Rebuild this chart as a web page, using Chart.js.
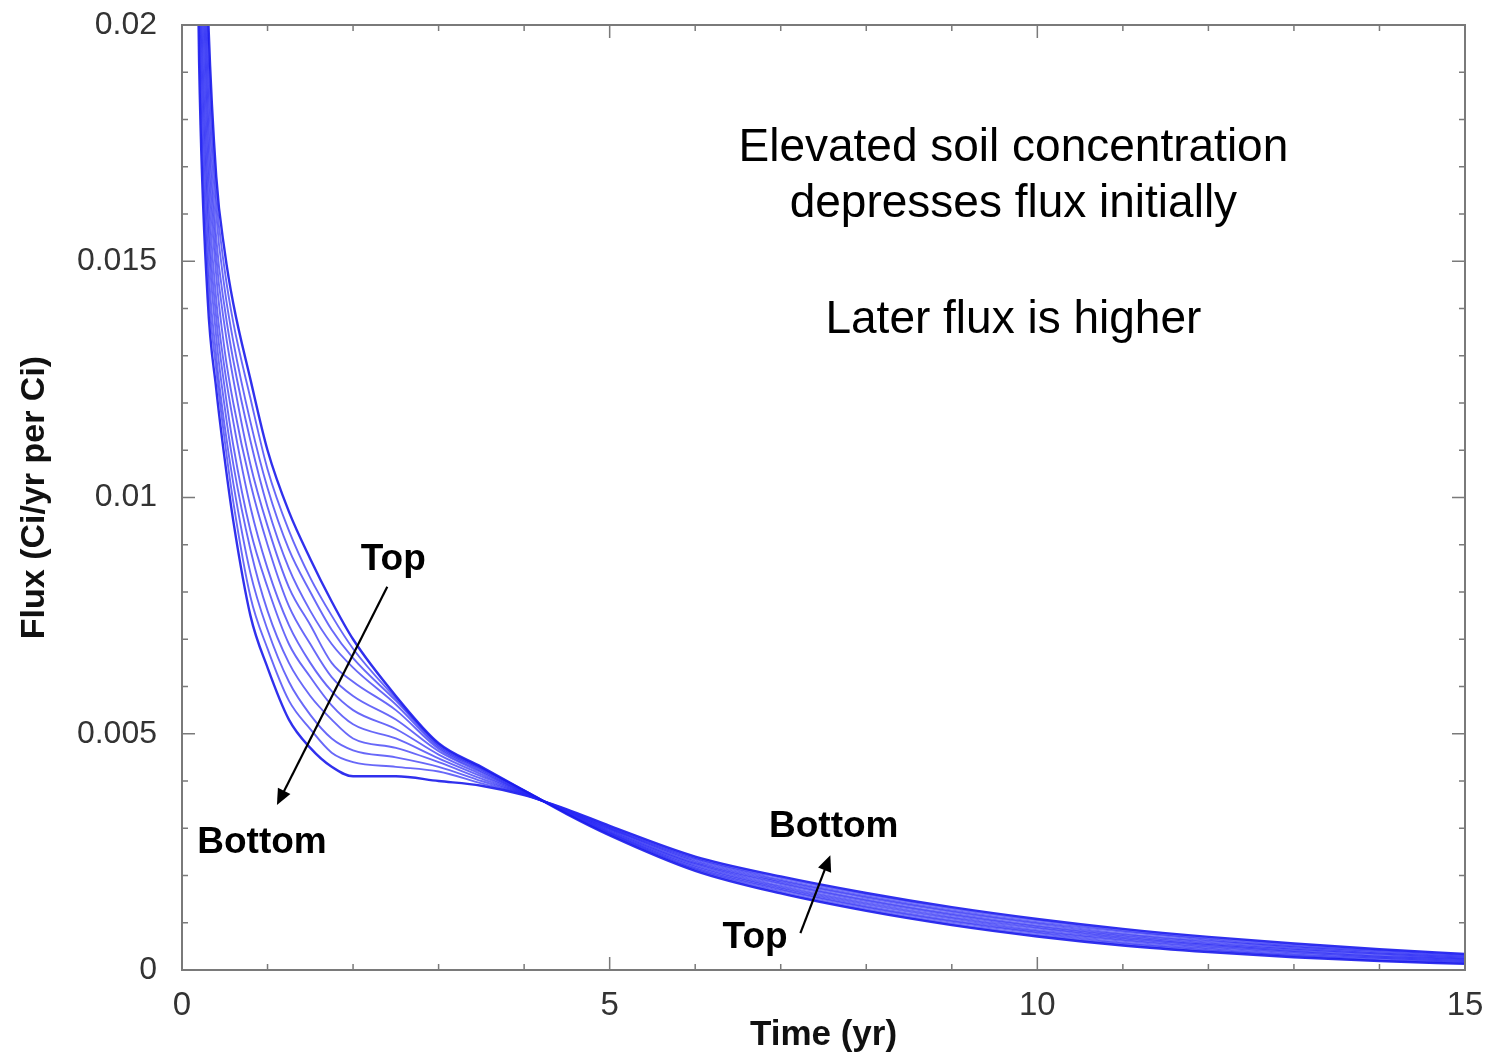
<!DOCTYPE html>
<html>
<head>
<meta charset="utf-8">
<script src="https://cdn.jsdelivr.net/npm/chart.js@4.4.1/dist/chart.umd.min.js"></script>
<style>
    html, body { margin:0; padding:0; background:#fff; }
    #wrap { width:1491px; height:1058px; }
</style>
</head>
<body>
<div id="wrap"><canvas id="grFlux" width="1491" height="1058"></canvas></div>
<script>
/* DATOS */
const tiempos = [0.15, 0.2, 0.3, 0.4, 0.5, 0.6, 0.8, 1.0, 1.25, 1.5, 1.75, 2.0, 2.5, 3.0, 3.5, 4.0, 4.5, 5, 6, 7, 8, 9, 10, 11, 12, 13, 14, 15];

// from "Top" (upper curve early) to "Bottom" (lower curve early)
const curva01 = [0.0350, 0.0280, 0.0205, 0.0168, 0.0152, 0.0141, 0.0125, 0.0110, 0.0097, 0.0087, 0.0078, 0.0070, 0.0058, 0.0048, 0.0043, 0.0038, 0.00330, 0.00285, 0.00210, 0.00162, 0.00125, 0.00095, 0.00071, 0.00052, 0.00038, 0.00027, 0.00019, 0.00013];
const curva02 = [0.0342, 0.0272, 0.0199, 0.0164, 0.0148, 0.0137, 0.0121, 0.0106, 0.0093, 0.0083, 0.0075, 0.0068, 0.00575, 0.00478, 0.00428, 0.0038, 0.00331, 0.00287, 0.00213, 0.00165, 0.00128, 0.00098, 0.00074, 0.00055, 0.00041, 0.00030, 0.00021, 0.00015];
const curva03 = [0.0334, 0.0264, 0.0193, 0.0160, 0.0144, 0.0133, 0.0116, 0.0102, 0.0089, 0.0080, 0.0072, 0.0066, 0.0057, 0.00475, 0.00426, 0.0038, 0.00332, 0.00289, 0.00215, 0.00169, 0.00132, 0.00102, 0.00078, 0.00058, 0.00044, 0.00032, 0.00024, 0.00017];
const curva04 = [0.0326, 0.0256, 0.0187, 0.0155, 0.0140, 0.0129, 0.0112, 0.0098, 0.0085, 0.0076, 0.0069, 0.0064, 0.00562, 0.00472, 0.00424, 0.00378, 0.00333, 0.00290, 0.00218, 0.00172, 0.00135, 0.00105, 0.00081, 0.00062, 0.00047, 0.00035, 0.00026, 0.00019];
const curva05 = [0.0318, 0.0248, 0.0181, 0.0151, 0.0136, 0.0125, 0.0107, 0.0094, 0.0081, 0.0073, 0.0065, 0.0061, 0.0055, 0.00468, 0.00421, 0.00377, 0.00334, 0.00292, 0.00221, 0.00175, 0.00139, 0.00109, 0.00084, 0.00065, 0.00050, 0.00038, 0.00028, 0.00021];
const curva06 = [0.0310, 0.0240, 0.0175, 0.0147, 0.0131, 0.0120, 0.0103, 0.0090, 0.0077, 0.0069, 0.0062, 0.0058, 0.0053, 0.00463, 0.00418, 0.00376, 0.00335, 0.00294, 0.00224, 0.00178, 0.00142, 0.00112, 0.00088, 0.00068, 0.00053, 0.00040, 0.00030, 0.00023];
const curva07 = [0.0301, 0.0231, 0.0169, 0.0142, 0.0127, 0.0116, 0.0098, 0.0085, 0.0073, 0.0065, 0.0059, 0.0055, 0.0051, 0.00456, 0.00414, 0.00375, 0.00336, 0.00296, 0.00226, 0.00182, 0.00146, 0.00116, 0.00091, 0.00071, 0.00055, 0.00043, 0.00033, 0.00024];
const curva08 = [0.0293, 0.0223, 0.0163, 0.0138, 0.0123, 0.0111, 0.0093, 0.0081, 0.0069, 0.0062, 0.0056, 0.0052, 0.0049, 0.00448, 0.0041, 0.00374, 0.00336, 0.00298, 0.00229, 0.00185, 0.00149, 0.00119, 0.00094, 0.00074, 0.00058, 0.00045, 0.00035, 0.00026];
const curva09 = [0.0285, 0.0215, 0.0158, 0.0134, 0.0119, 0.0107, 0.0089, 0.0076, 0.0065, 0.0058, 0.0053, 0.0049, 0.0047, 0.0044, 0.00405, 0.00373, 0.00337, 0.00300, 0.00232, 0.00188, 0.00153, 0.00123, 0.00098, 0.00077, 0.00061, 0.00048, 0.00037, 0.00028];
const curva10 = [0.0277, 0.0207, 0.0152, 0.0130, 0.0115, 0.0103, 0.0084, 0.0072, 0.0061, 0.0054, 0.0049, 0.00465, 0.0045, 0.0043, 0.0040, 0.00372, 0.00338, 0.00301, 0.00235, 0.00191, 0.00156, 0.00126, 0.00101, 0.00081, 0.00064, 0.00050, 0.00040, 0.00030];
const curva11 = [0.0268, 0.0199, 0.0147, 0.0127, 0.0112, 0.0099, 0.0079, 0.0068, 0.0057, 0.0051, 0.0046, 0.0044, 0.0043, 0.0042, 0.00395, 0.00371, 0.00339, 0.00303, 0.00237, 0.00195, 0.00160, 0.00130, 0.00105, 0.00084, 0.00067, 0.00053, 0.00042, 0.00032];
const curva12 = [0.0260, 0.0192, 0.0142, 0.0123, 0.0108, 0.0095, 0.0075, 0.0064, 0.0053, 0.0047, 0.0043, 0.0041, 0.0041, 0.0040, 0.0039, 0.0037, 0.0034, 0.00305, 0.00240, 0.00198, 0.00163, 0.00133, 0.00108, 0.00087, 0.00070, 0.00056, 0.00044, 0.00034];

const curvas = [curva01, curva02, curva03, curva04, curva05, curva06, curva07, curva08, curva09, curva10, curva11, curva12];

const xTicksLabeled = [0, 5, 10, 15];

const FONT = "'Liberation Sans', Arial, Helvetica, sans-serif";

/* Marco, ticks hacia adentro y anotaciones */
const marcoPlugin = {
    id: 'marcoPlugin',
    afterDraw(chart) {
        const { ctx, chartArea: { left, right, top, bottom }, scales: { x, y } } = chart;
        ctx.save();

        ctx.strokeStyle = '#7a7a7a';
        ctx.lineWidth = 2;
        ctx.strokeRect(left, top, right - left, bottom - top);

        ctx.lineWidth = 1.5;
        ctx.beginPath();
        x.ticks.forEach(t => {
            const px = x.getPixelForValue(t.value);
            const len = xTicksLabeled.includes(t.value) ? 13 : 6;
            ctx.moveTo(px, bottom); ctx.lineTo(px, bottom - len);
            ctx.moveTo(px, top); ctx.lineTo(px, top + len);
        });
        y.ticks.forEach(t => {
            const py = y.getPixelForValue(t.value);
            const major = Math.round(t.value * 1000) % 5 === 0;
            const len = major ? 13 : 6;
            ctx.moveTo(left, py); ctx.lineTo(left + len, py);
            ctx.moveTo(right, py); ctx.lineTo(right - len, py);
        });
        ctx.stroke();

        // texto
        ctx.fillStyle = '#000';
        ctx.textAlign = 'center';
        ctx.textBaseline = 'middle';
        ctx.font = '46px ' + FONT;
        ctx.fillText('Elevated soil concentration', x.getPixelForValue(9.72), y.getPixelForValue(0.0174));
        ctx.fillText('depresses flux initially', x.getPixelForValue(9.72), y.getPixelForValue(0.0162));
        ctx.fillText('Later flux is higher', x.getPixelForValue(9.72), y.getPixelForValue(0.01376));

        ctx.font = 'bold 37px ' + FONT;
        ctx.fillText('Top', x.getPixelForValue(2.47), y.getPixelForValue(0.00868));
        ctx.fillText('Bottom', x.getPixelForValue(0.935), y.getPixelForValue(0.00269));
        ctx.fillText('Bottom', x.getPixelForValue(7.62), y.getPixelForValue(0.00303));
        ctx.fillText('Top', x.getPixelForValue(6.70), y.getPixelForValue(0.00068));

        // flechas
        const flecha = (x0, y0, x1, y1) => {
            const ax = x.getPixelForValue(x0), ay = y.getPixelForValue(y0);
            const bx = x.getPixelForValue(x1), by = y.getPixelForValue(y1);
            const ang = Math.atan2(by - ay, bx - ax);
            const h = 16, w = 7;
            ctx.strokeStyle = '#000';
            ctx.lineWidth = 2.2;
            ctx.beginPath();
            ctx.moveTo(ax, ay);
            ctx.lineTo(bx - Math.cos(ang) * h * 0.8, by - Math.sin(ang) * h * 0.8);
            ctx.stroke();
            ctx.beginPath();
            ctx.moveTo(bx, by);
            ctx.lineTo(bx - Math.cos(ang) * h + Math.sin(ang) * w, by - Math.sin(ang) * h - Math.cos(ang) * w);
            ctx.lineTo(bx - Math.cos(ang) * h - Math.sin(ang) * w, by - Math.sin(ang) * h + Math.cos(ang) * w);
            ctx.closePath();
            ctx.fillStyle = '#000';
            ctx.fill();
        };
        flecha(2.40, 0.00811, 1.11, 0.00349);
        flecha(7.23, 0.00078, 7.58, 0.00243);

        ctx.restore();
    }
};

/* GRAFICO */
const datasets = curvas.map((serie, i) => ({
    label: 'curva ' + (i + 1),
    data: tiempos.map((t, k) => ({ x: t, y: serie[k] })),
    borderColor: (i === 0 || i === curvas.length - 1) ? 'rgba(25,25,235,0.9)' : 'rgba(40,40,245,0.7)',
    borderWidth: (i === 0 || i === curvas.length - 1) ? 2.4 : 1.9,
    pointRadius: 0,
    fill: false,
    cubicInterpolationMode: 'monotone'
}));

new Chart(document.getElementById('grFlux').getContext('2d'), {
    type: 'line',
    data: { datasets: datasets },
    options: {
        responsive: false,
        animation: false,
        events: [],
        layout: { padding: { top: 25, right: 26, left: 0, bottom: 0 } },
        plugins: {
            legend: { display: false },
            tooltip: { enabled: false }
        },
        scales: {
            x: {
                type: 'linear',
                min: 0,
                max: 15,
                grid: { display: false },
                border: { display: false },
                afterFit: s => { s.height = 88; s.paddingLeft = 0; s.paddingRight = 0; },
                ticks: {
                    stepSize: 1,
                    autoSkip: false,
                    maxRotation: 0,
                    padding: 8,
                    color: '#333',
                    font: { family: FONT, size: 33 },
                    callback: v => xTicksLabeled.includes(v) ? String(v) : ''
                },
                title: {
                    display: true,
                    text: 'Time (yr)',
                    color: '#111',
                    font: { family: FONT, size: 35, weight: 'bold' },
                    padding: { top: 0, bottom: 2 }
                }
            },
            y: {
                type: 'linear',
                min: 0,
                max: 0.02,
                grid: { display: false },
                border: { display: false },
                afterFit: s => { s.width = 182; s.paddingTop = 0; s.paddingBottom = 0; },
                ticks: {
                    stepSize: 0.001,
                    autoSkip: false,
                    padding: 17,
                    color: '#333',
                    font: { family: FONT, size: 32 },
                    callback: v => {
                        const r = Math.round(v * 1000);
                        return r % 5 === 0 ? String(r / 1000) : '';
                    }
                },
                title: {
                    display: true,
                    text: 'Flux (Ci/yr per Ci)',
                    color: '#111',
                    font: { family: FONT, size: 34, weight: 'bold' },
                    padding: { top: 14, bottom: 0 }
                }
            }
        }
    },
    plugins: [marcoPlugin]
});
</script>
</body>
</html>
